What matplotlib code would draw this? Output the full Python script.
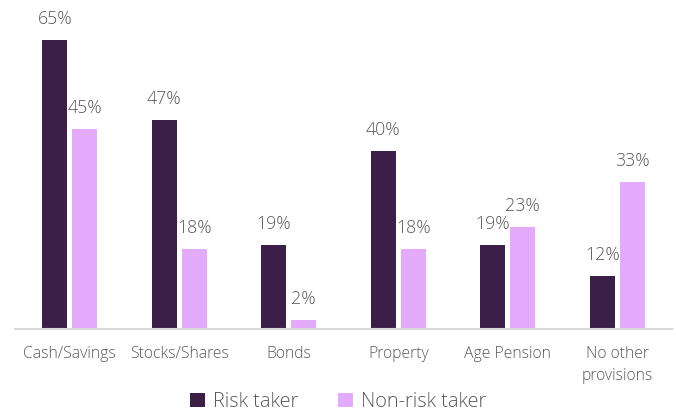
import numpy as np
import matplotlib.pyplot as plt

plt.rcParams['font.family'] = ['Open Sans', 'DejaVu Sans']
plt.rcParams['font.weight'] = 'light'

categories = ['Cash/Savings', 'Stocks/Shares', 'Bonds', 'Property', 'Age Pension', 'No other\nprovisions']
risk_taker = [65, 47, 19, 40, 19, 12]
non_risk_taker = [45, 18, 2, 18, 23, 33]

dark = '#3b1f49'
light = '#e4abfc'
text_grey = '#595959'

fig = plt.figure(figsize=(6.76, 4.16), dpi=100)
ax = fig.add_axes([15 / 676, 1 - 329 / 416, 657 / 676, 311 / 416])

x = np.arange(len(categories))
w = 0.23
off = 0.137
b1 = ax.bar(x - off, risk_taker, w, color=dark, label='Risk taker')
b2 = ax.bar(x + off, non_risk_taker, w, color=light, label='Non-risk taker')

# value labels sit a little above each bar
for bars, vals in ((b1, risk_taker), (b2, non_risk_taker)):
    for rect, v in zip(bars, vals):
        ax.annotate(f'{v}%', (rect.get_x() + rect.get_width() / 2, v),
                    xytext=(0, 11.5), textcoords='offset points',
                    ha='center', va='baseline', fontsize=12.8, color=text_grey,
                    clip_on=False)

ax.set_xlim(-0.5, len(categories) - 0.5)
ax.set_ylim(0, 70)
ax.set_yticks([])
ax.set_xticks(x)
ax.set_xticklabels(categories, fontsize=11.3, color=text_grey, linespacing=1.55)
ax.tick_params(axis='x', length=0, pad=12)
for s in ('top', 'right', 'left'):
    ax.spines[s].set_visible(False)
ax.spines['bottom'].set_color('#d9d9d9')
ax.spines['bottom'].set_linewidth(1.5)

fig.legend(handles=[b1, b2], loc='center', bbox_to_anchor=(338 / 676, 1 - 402 / 416),
           ncol=2, frameon=False, fontsize=14.3, handlelength=0.75, handleheight=0.75,
           handletextpad=0.4, columnspacing=2.0, labelcolor=text_grey)

fig.savefig('out.png', dpi=100)
